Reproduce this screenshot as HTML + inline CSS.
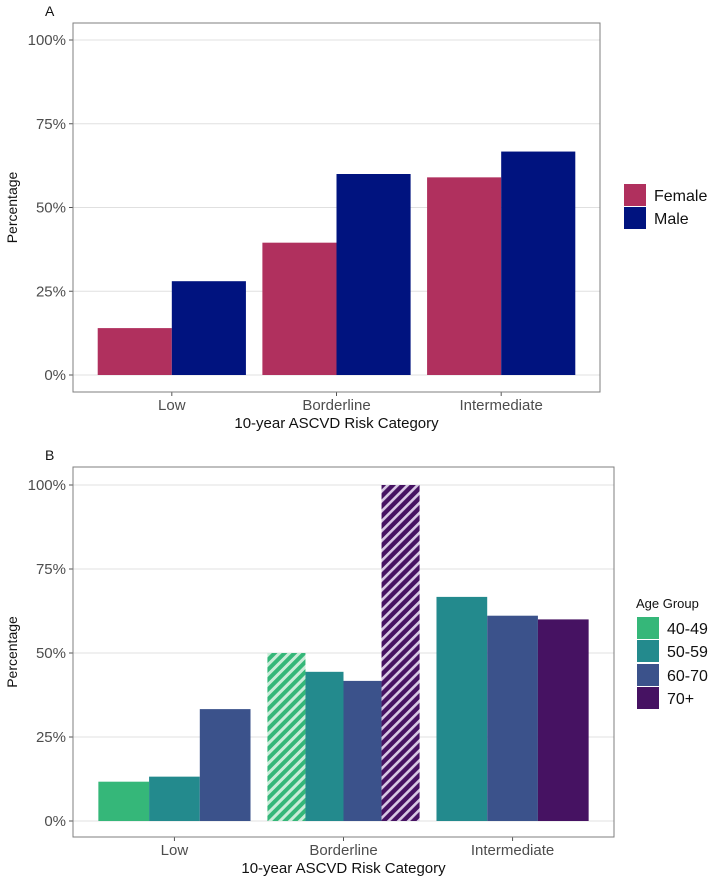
<!DOCTYPE html>
<html><head><meta charset="utf-8"><style>
body{margin:0;background:#fff;}
svg{display:block;font-family:"Liberation Sans",Arial,sans-serif;}
</style></head><body>
<svg id="chart" width="709" height="878" viewBox="0 0 709 878">
<defs>
<pattern id="hatchGreen" patternUnits="userSpaceOnUse" width="7" height="7" patternTransform="rotate(45)">
<rect width="7" height="7" fill="#35b779"/><rect x="0" y="0" width="3" height="7" fill="#c9ecd8"/>
</pattern>
<pattern id="hatchPurple" patternUnits="userSpaceOnUse" width="7" height="7" patternTransform="rotate(45)">
<rect width="7" height="7" fill="#461262"/><rect x="0" y="0" width="2.6" height="7" fill="#d8c8e4"/>
</pattern>
</defs>
</svg>
<script>
// Panel A data
const catsA = ["Low","Borderline","Intermediate"];
const femaleA = [14, 39.5, 59];
const maleA = [28, 60, 66.7];
// Panel B data
const catsB = ["Low","Borderline","Intermediate"];
const age4049 = [11.7, 50, null];
const age5059 = [13.2, 44.4, 66.7];
const age6070 = [33.3, 41.7, 61.1];
const age70p = [null, 100, 60];
const yTicks = [0,25,50,75,100];
const yTickLabels = ["0%","25%","50%","75%","100%"];

const NS="http://www.w3.org/2000/svg";
const svg=document.getElementById('chart');
function mk(tag,attrs,parent){const e=document.createElementNS(NS,tag);for(const k in attrs)e.setAttribute(k,attrs[k]);(parent||svg).appendChild(e);return e;}

function panel(cfg){
  const {left,right,top,bottom,y0,y100,cats,series,letter,xTitleY,tickLabY,prefix}=cfg;
  const g=mk('g',{});
  
  
  const unit=(right-left)/3.2;
  const xc=i=>left+(0.6+i)*unit;
  const y=v=>y0+(y100-y0)*v/100;
  yTicks.forEach((t,i)=>{
    const gl=mk('line',{x1:left,x2:right,y1:y(t),y2:y(t),stroke:'#e0e0e0','stroke-width':1},g);
    
    
    mk('line',{x1:left-4,x2:left,y1:y(t),y2:y(t),stroke:'#555','stroke-width':1},g);
    const tl=mk('text',{x:left-7,y:y(t)+5,'text-anchor':'end','font-size':15,fill:'#4d4d4d'},g);
    tl.textContent=yTickLabels[i];
    
    
  });
  cats.forEach((c,i)=>{
    const present=series.filter(s=>s.vals[i]!=null);
    const w=0.9*unit/present.length;
    const start=xc(i)-0.45*unit;
    present.forEach((s,j)=>{
      const v=s.vals[i];
      const r=mk('rect',{x:start+j*w,y:y(v),width:w,height:y0-y(v),fill:(s.hatch&&s.hatch[i])?s.hatch[i]:s.color},g);
      
      
    });
    mk('line',{x1:xc(i),x2:xc(i),y1:bottom,y2:bottom+4,stroke:'#555'},g);
    const t=mk('text',{x:xc(i),y:tickLabY,'text-anchor':'middle','font-size':15,fill:'#4d4d4d'},g);
    t.textContent=c;
    
    
  });
  const b=mk('rect',{x:left,y:top,width:right-left,height:bottom-top,fill:'none',stroke:'#7f7f7f','stroke-width':1},g);
  
  
  const xt=mk('text',{x:(left+right)/2,y:xTitleY,'text-anchor':'middle','font-size':15,fill:'#111'},g);
  xt.textContent='10-year ASCVD Risk Category';
  
  
  const cy=(top+bottom)/2;
  const yt=mk('text',{x:17,y:cy,'text-anchor':'middle','font-size':14,fill:'#111',transform:`rotate(-90 17 ${cy})`},g);
  yt.textContent='Percentage';
  
  
  const pl=mk('text',{x:45,y:top-7,'font-size':14,fill:'#111'},g);
  pl.textContent=letter;
  
  
}

panel({left:73,right:600,top:23,bottom:392,y0:375,y100:40,cats:catsA,letter:'A',xTitleY:428,tickLabY:410,prefix:'a',
  series:[{key:'female',vals:femaleA,color:'#b0305e'},{key:'male',vals:maleA,color:'#00137f'}]});
panel({left:73,right:614,top:467,bottom:837,y0:821,y100:485,cats:catsB,letter:'B',xTitleY:873,tickLabY:855,prefix:'b',
  series:[{key:'40-49',vals:age4049,color:'#35b779',hatch:[null,'url(#hatchGreen)',null]},
          {key:'50-59',vals:age5059,color:'#238a8d'},
          {key:'60-70',vals:age6070,color:'#3b528b'},
          {key:'70plus',vals:age70p,color:'#461262',hatch:[null,'url(#hatchPurple)',null]}]});

function legItem(x,y,color,label,fs,tx){
  const r=mk('rect',{x:x,y:y,width:22,height:22,fill:color});
  
  
  const t=mk('text',{x:tx,y:y+17,'font-size':fs,fill:'#111'});
  t.textContent=label;
  
  
}
legItem(624,184,'#b0305e','Female',16,654);
legItem(624,207,'#00137f','Male',16,654);
const lt=mk('text',{x:636,y:608,'font-size':13,fill:'#111'});
lt.textContent='Age Group';


legItem(637,617,'#35b779','40-49',16,667);
legItem(637,640,'#238a8d','50-59',16,667);
legItem(637,664,'#3b528b','60-70',16,667);
legItem(637,687,'#461262','70+',16,667);
</script>
</body></html>
